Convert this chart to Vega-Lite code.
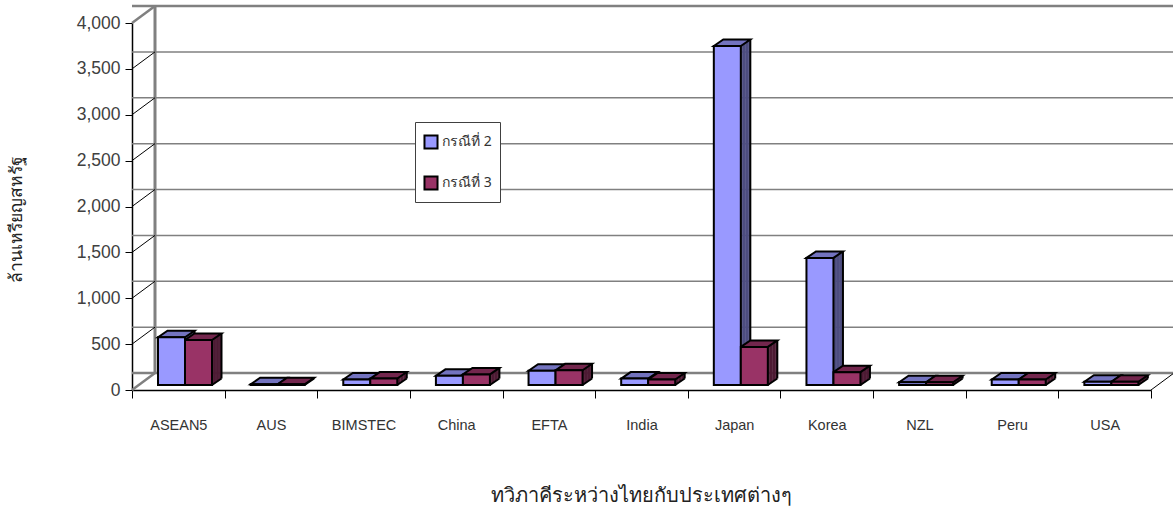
{
"$schema":"https://vega.github.io/schema/vega-lite/v6.json",
"width":1019,"height":367,
"autosize":{"type":"none"},
"padding":{"left":132,"top":23,"right":22,"bottom":123},
"background":"white",
"datasets":{
"bars":[
{"cat":"ASEAN5","series":"กรณีที่ 2","v":520},{"cat":"ASEAN5","series":"กรณีที่ 3","v":490},
{"cat":"AUS","series":"กรณีที่ 2","v":8},{"cat":"AUS","series":"กรณีที่ 3","v":8},
{"cat":"BIMSTEC","series":"กรณีที่ 2","v":60},{"cat":"BIMSTEC","series":"กรณีที่ 3","v":70},
{"cat":"China","series":"กรณีที่ 2","v":100},{"cat":"China","series":"กรณีที่ 3","v":115},
{"cat":"EFTA","series":"กรณีที่ 2","v":155},{"cat":"EFTA","series":"กรณีที่ 3","v":160},
{"cat":"India","series":"กรณีที่ 2","v":70},{"cat":"India","series":"กรณีที่ 3","v":60},
{"cat":"Japan","series":"กรณีที่ 2","v":3695},{"cat":"Japan","series":"กรณีที่ 3","v":415},
{"cat":"Korea","series":"กรณีที่ 2","v":1385},{"cat":"Korea","series":"กรณีที่ 3","v":140},
{"cat":"NZL","series":"กรณีที่ 2","v":30},{"cat":"NZL","series":"กรณีที่ 3","v":30},
{"cat":"Peru","series":"กรณีที่ 2","v":60},{"cat":"Peru","series":"กรณีที่ 3","v":60},
{"cat":"USA","series":"กรณีที่ 2","v":35},{"cat":"USA","series":"กรณีที่ 3","v":35}
],
"ticks":[{"v":500},{"v":1000},{"v":1500},{"v":2000},{"v":2500},{"v":3000},{"v":3500}],
"ends":[{"v":0},{"v":4000}]
},
"resolve":{"scale":{"xOffset":"independent"}},
"layer":[
{"data":{"name":"ticks"},"mark":{"type":"rule","stroke":"#808080","strokeWidth":1.5,"xOffset":23,"yOffset":-17},
 "encoding":{"y":{"field":"v","type":"quantitative","title":"ล้านเหรียญสหรัฐ",
   "scale":{"domain":[0,4000],"nice":false},
   "axis":{"values":[0,500,1000,1500,2000,2500,3000,3500,4000],"format":",d","grid":false,"domainColor":"#000000","domainWidth":1.5,"tickColor":"#000000","tickSize":7,"tickWidth":1,"labelFontSize":17.5,"labelColor":"#404040","labelPadding":5,"labelFont":"Liberation Sans","titleFont":"Noto Sans","titleFontSize":17.5,"titleFontWeight":"normal","titleColor":"#222222","titleX":-107,"titleY":196}}}},
{"data":{"name":"ends"},"mark":{"type":"rule","stroke":"#808080","strokeWidth":2.5,"xOffset":23,"yOffset":-17},
 "encoding":{"y":{"field":"v","type":"quantitative"}}},
{"data":{"values":[{"v":0}]},"mark":{"type":"rule","stroke":"#808080","strokeWidth":3,"xOffset":23,"yOffset":-17,"y2Offset":-17},
 "encoding":{"x":{"datum":"ASEAN5","type":"nominal","bandPosition":0},"y":{"datum":0,"type":"quantitative"},"y2":{"datum":4000}}},
{"data":{"name":"ticks"},"mark":{"type":"point","shape":"M0,0L23,-17","size":4,"filled":false,"stroke":"#000000","strokeWidth":1,"opacity":1},
 "encoding":{"x":{"datum":"ASEAN5","type":"nominal","bandPosition":0},"y":{"field":"v","type":"quantitative"}}},
{"data":{"name":"ends"},"mark":{"type":"point","shape":"M0,0L23,-17","size":4,"filled":false,"stroke":"#808080","strokeWidth":2.5,"opacity":1},
 "encoding":{"x":{"datum":"ASEAN5","type":"nominal","bandPosition":0},"y":{"field":"v","type":"quantitative"}}},
{"data":{"values":[{"v":0}]},"mark":{"type":"point","shape":"M0,0L23,-17","size":4,"filled":false,"stroke":"#000000","strokeWidth":1,"opacity":1},
 "encoding":{"x":{"datum":"USA","type":"nominal","bandPosition":1},"y":{"field":"v","type":"quantitative"}}},

{"data":{"name":"bars"},"mark":{"type":"bar","width":1.9,"yOffset":-5.7,"y2Offset":-5.7},
 "encoding":{"x":{"field":"cat","type":"nominal"},"xOffset":{"field":"series","scale":{"range":[21.2,113.8],"paddingInner":0,"paddingOuter":0.715}},"y":{"field":"v","type":"quantitative"},"fill":{"condition":{"test":"datum.series==='กรณีที่ 2'","value":"#4D4D80"},"value":"#4D1A33"}}},
{"data":{"name":"bars"},"mark":{"type":"bar","width":1.9,"yOffset":-6.8,"y2Offset":-6.8},
 "encoding":{"x":{"field":"cat","type":"nominal"},"xOffset":{"field":"series","scale":{"range":[22.7,115.3],"paddingInner":0,"paddingOuter":0.715}},"y":{"field":"v","type":"quantitative"},"fill":{"condition":{"test":"datum.series==='กรณีที่ 2'","value":"#4D4D80"},"value":"#4D1A33"}}},
{"data":{"name":"bars"},"mark":{"type":"bar","width":1.9,"yOffset":-7.9,"y2Offset":-7.9},
 "encoding":{"x":{"field":"cat","type":"nominal"},"xOffset":{"field":"series","scale":{"range":[24.2,116.8],"paddingInner":0,"paddingOuter":0.715}},"y":{"field":"v","type":"quantitative"},"fill":{"condition":{"test":"datum.series==='กรณีที่ 2'","value":"#4D4D80"},"value":"#4D1A33"}}},
{"data":{"name":"bars"},"mark":{"type":"bar","width":1.9,"yOffset":-9,"y2Offset":-9},
 "encoding":{"x":{"field":"cat","type":"nominal"},"xOffset":{"field":"series","scale":{"range":[25.7,118.3],"paddingInner":0,"paddingOuter":0.715}},"y":{"field":"v","type":"quantitative"},"fill":{"condition":{"test":"datum.series==='กรณีที่ 2'","value":"#4D4D80"},"value":"#4D1A33"}}},
{"data":{"name":"bars"},"mark":{"type":"bar","width":1.9,"yOffset":-10.1,"y2Offset":-10.1},
 "encoding":{"x":{"field":"cat","type":"nominal"},"xOffset":{"field":"series","scale":{"range":[27.2,119.8],"paddingInner":0,"paddingOuter":0.715}},"y":{"field":"v","type":"quantitative"},"fill":{"condition":{"test":"datum.series==='กรณีที่ 2'","value":"#4D4D80"},"value":"#4D1A33"}}},
{"data":{"name":"bars"},"mark":{"type":"bar","width":1.9,"yOffset":-11.2,"y2Offset":-11.2},
 "encoding":{"x":{"field":"cat","type":"nominal"},"xOffset":{"field":"series","scale":{"range":[28.7,121.3],"paddingInner":0,"paddingOuter":0.715}},"y":{"field":"v","type":"quantitative"},"fill":{"condition":{"test":"datum.series==='กรณีที่ 2'","value":"#4D4D80"},"value":"#4D1A33"}}},
{"data":{"name":"bars"},"mark":{"type":"bar","width":2,"yOffset":-11.5,"y2Offset":-11.5,"fill":"#000000"},
 "encoding":{"x":{"field":"cat","type":"nominal"},"xOffset":{"field":"series","scale":{"range":[29.7,122.3],"paddingInner":0,"paddingOuter":0.715}},"y":{"field":"v","type":"quantitative"}}},
{"data":{"name":"bars"},"mark":{"type":"point","shape":"M13.5,0L23,-6.5","size":4,"filled":false,"stroke":"#000000","strokeWidth":2,"opacity":1,"yOffset":-5},
 "encoding":{"x":{"field":"cat","type":"nominal"},"xOffset":{"field":"series","scale":{"type":"band","range":[6.7,99.3],"paddingInner":0,"paddingOuter":0.715}},"y":{"datum":0,"type":"quantitative"}}},
{"data":{"name":"bars"},"mark":{"type":"point","shape":"M-13.5,0L-4,-6.5L23,-6.5L13.5,0Z","size":4,"filled":true,"stroke":"#000000","strokeWidth":2,"opacity":1,"yOffset":-5},
 "encoding":{"x":{"field":"cat","type":"nominal"},"xOffset":{"field":"series","scale":{"type":"band","range":[6.7,99.3],"paddingInner":0,"paddingOuter":0.715}},"y":{"field":"v","type":"quantitative"},"fill":{"condition":{"test":"datum.series==='กรณีที่ 2'","value":"#7373BF"},"value":"#73264D"}}},
{"data":{"name":"bars"},"mark":{"type":"bar","stroke":"#000000","strokeWidth":2,"yOffset":-5,"y2Offset":-5},
 "encoding":{
  "x":{"field":"cat","type":"nominal","title":"ทวิภาคีระหว่างไทยกับประเทศต่างๆ",
    "scale":{"domain":["ASEAN5","AUS","BIMSTEC","China","EFTA","India","Japan","Korea","NZL","Peru","USA"],"paddingInner":0,"paddingOuter":0},
    "axis":{"labelAngle":0,"labelAlign":"center","tickBand":"extent","grid":false,"domainColor":"#000000","domainWidth":1.5,"tickColor":"#000000","tickSize":8,"tickWidth":1,"labelFontSize":14.5,"labelColor":"#333333","labelFont":"Liberation Sans","labelPadding":27,"titleFont":"Noto Sans","titleFontSize":20,"titleFontWeight":"normal","titleColor":"#222222","titleX":509,"titleY":95}},
  "xOffset":{"field":"series","scale":{"range":[6.7,99.3],"paddingInner":0,"paddingOuter":0.715}},
  "y":{"field":"v","type":"quantitative"},
  "fill":{"field":"series","type":"nominal","scale":{"domain":["กรณีที่ 2","กรณีที่ 3"],"range":["#9999FF","#993366"]},
    "legend":{"title":" ","titleFontSize":1,"titlePadding":3,"orient":"none","legendX":283,"legendY":99,"fillColor":"#ffffff","strokeColor":"#404040","padding":8,"symbolType":"square","symbolSize":170,"symbolStrokeColor":"#000000","symbolStrokeWidth":2,"labelFontSize":14,"labelFont":"Noto Sans","labelColor":"#333333","rowPadding":19,"labelOffset":3}}
 }}
],
"config":{"view":{"stroke":null}}
}
